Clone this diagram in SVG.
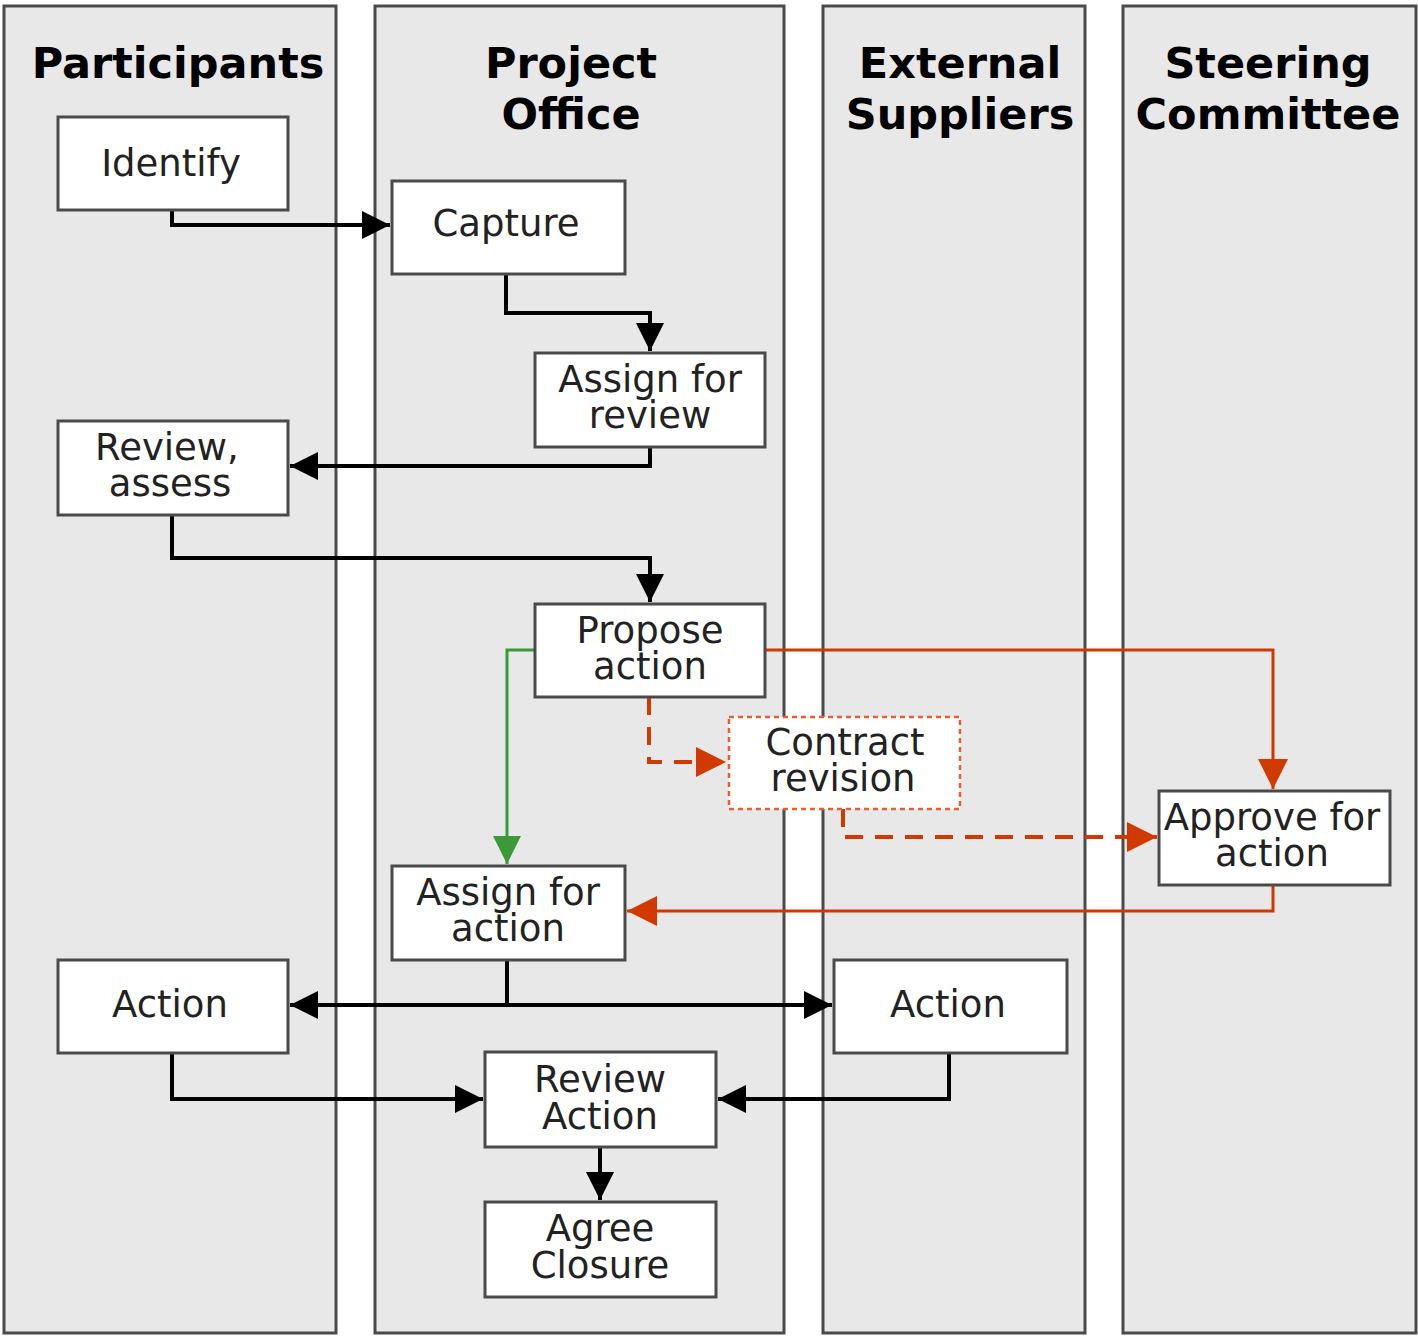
<svg xmlns="http://www.w3.org/2000/svg" width="1418" height="1336" viewBox="0 0 1418 1336">
<style>
.lane{fill:#e8e8e8;stroke:#4a4a4a;stroke-width:3}
.box{fill:#ffffff;stroke:#4a4a4a;stroke-width:3}
.dbox{fill:#ffffff;stroke:#e0603a;stroke-width:2.5;stroke-dasharray:5,4}
.hd{font-family:"DejaVu Sans",Verdana,sans-serif;font-weight:bold;font-size:43px;fill:#000;text-anchor:middle}
.tx{font-family:"DejaVu Sans",Verdana,sans-serif;font-size:37px;fill:#222;text-anchor:middle}
.k{fill:none;stroke:#000;stroke-width:4}
.r{fill:none;stroke:#d03a00;stroke-width:3}
.rd{fill:none;stroke:#d03a00;stroke-width:4;stroke-dasharray:18,12}
.g{fill:none;stroke:#3a9a3a;stroke-width:3}
</style>
<defs>
<marker id="ak" viewBox="0 0 10 10" refX="10" refY="5" markerWidth="28" markerHeight="28" markerUnits="userSpaceOnUse" orient="auto"><path d="M0,0 L10,5 L0,10 z" fill="#000"/></marker>
<marker id="ar" viewBox="0 0 10 10" refX="10" refY="5" markerWidth="30" markerHeight="30" markerUnits="userSpaceOnUse" orient="auto"><path d="M0,0 L10,5 L0,10 z" fill="#d03a00"/></marker>
<marker id="ag" viewBox="0 0 10 10" refX="10" refY="5" markerWidth="28" markerHeight="28" markerUnits="userSpaceOnUse" orient="auto"><path d="M0,0 L10,5 L0,10 z" fill="#3a9a3a"/></marker>
</defs>
<rect width="1418" height="1336" fill="#ffffff"/>
<g id="lanes">
<g id="lane-participants"><rect class="lane" x="4" y="6" width="332" height="1327"/><text class="hd" x="178" y="78">Participants</text></g>
<g id="lane-project-office"><rect class="lane" x="375" y="6" width="409" height="1327"/><text class="hd" x="571" y="78">Project</text><text class="hd" x="571" y="129">Office</text></g>
<g id="lane-external-suppliers"><rect class="lane" x="823" y="6" width="262" height="1327"/><text class="hd" x="960" y="78">External</text><text class="hd" x="960" y="129">Suppliers</text></g>
<g id="lane-steering-committee"><rect class="lane" x="1123" y="6" width="293" height="1327"/><text class="hd" x="1268" y="78">Steering</text><text class="hd" x="1268" y="129">Committee</text></g>
</g>
<g id="connectors">
<path class="k" d="M172,210 V225 H390" marker-end="url(#ak)"/>
<path class="k" d="M506,274 V313 H650 V351" marker-end="url(#ak)"/>
<path class="k" d="M650,447 V466 H290" marker-end="url(#ak)"/>
<path class="k" d="M172,515 V558 H650 V602" marker-end="url(#ak)"/>
<path class="g" d="M535,650 H507 V864" marker-end="url(#ag)"/>
<path class="r" d="M765,650 H1273 V789" marker-end="url(#ar)"/>
<path class="rd" d="M649,697 V762 H726" marker-end="url(#ar)"/>
<path class="rd" d="M843,809 V837 H1157" marker-end="url(#ar)"/>
<path class="r" d="M1273,885 V911 H627" marker-end="url(#ar)"/>
<path class="k" d="M507,960 V1005"/>
<path class="k" d="M507,1005 H290" marker-end="url(#ak)"/>
<path class="k" d="M507,1005 H832" marker-end="url(#ak)"/>
<path class="k" d="M172,1053 V1099 H483" marker-end="url(#ak)"/>
<path class="k" d="M949,1053 V1099 H718" marker-end="url(#ak)"/>
<path class="k" d="M600,1147 V1200" marker-end="url(#ak)"/>
</g>
<g id="node-identify"><rect class="box" x="58" y="117" width="230" height="93"/><text class="tx" x="171" y="176">Identify</text></g>
<g id="node-capture"><rect class="box" x="392" y="181" width="233" height="93"/><text class="tx" x="506" y="236">Capture</text></g>
<g id="node-assign-review"><rect class="box" x="535" y="353" width="230" height="94"/><text class="tx" x="650" y="392">Assign for</text><text class="tx" x="650" y="428">review</text></g>
<g id="node-review-assess"><rect class="box" x="58" y="421" width="230" height="94"/><text class="tx" x="167" y="460">Review,</text><text class="tx" x="170" y="496">assess</text></g>
<g id="node-propose"><rect class="box" x="535" y="604" width="230" height="93"/><text class="tx" x="650" y="643">Propose</text><text class="tx" x="650" y="679">action</text></g>
<g id="node-contract"><rect class="dbox" x="729" y="717" width="231" height="92"/><text class="tx" x="845" y="755">Contract</text><text class="tx" x="843" y="791">revision</text></g>
<g id="node-approve"><rect class="box" x="1159" y="791" width="231" height="94"/><text class="tx" x="1272" y="830">Approve for</text><text class="tx" x="1272" y="866">action</text></g>
<g id="node-assign-action"><rect class="box" x="392" y="866" width="233" height="94"/><text class="tx" x="508" y="905">Assign for</text><text class="tx" x="508" y="941">action</text></g>
<g id="node-action-left"><rect class="box" x="58" y="960" width="230" height="93"/><text class="tx" x="170" y="1017">Action</text></g>
<g id="node-action-right"><rect class="box" x="834" y="960" width="233" height="93"/><text class="tx" x="948" y="1017">Action</text></g>
<g id="node-review-action"><rect class="box" x="485" y="1052" width="231" height="95"/><text class="tx" x="600" y="1092">Review</text><text class="tx" x="600" y="1129">Action</text></g>
<g id="node-agree-closure"><rect class="box" x="485" y="1202" width="231" height="95"/><text class="tx" x="600" y="1241">Agree</text><text class="tx" x="600" y="1278">Closure</text></g>
</svg>
